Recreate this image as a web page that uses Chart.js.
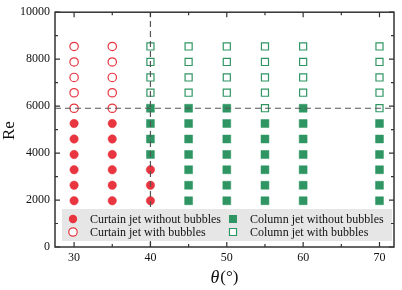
<!DOCTYPE html>
<html>
<head>
<meta charset="utf-8">
<script src="https://cdn.jsdelivr.net/npm/chart.js@4"></script>
<style>
  html, body { margin: 0; padding: 0; background: #fff; }
  #wrap { width: 402px; height: 290px; position: relative; }
</style>
</head>
<body>
<div id="wrap"><canvas id="flowMap"></canvas></div>
<script>
// Flow regime map: theta (deg) vs Re

// Curtain jet without bubbles
const curtainSolidX = [30, 30, 30, 30, 30, 30, 35, 35, 35, 35, 35, 35, 40, 40, 40];
const curtainSolidY = [1970, 2630, 3290, 3940, 4600, 5260, 1970, 2630, 3290, 3940, 4600, 5260, 1970, 2630, 3290];

// Curtain jet with bubbles
const curtainOpenX = [30, 30, 30, 30, 30, 35, 35, 35, 35, 35];
const curtainOpenY = [5910, 6570, 7220, 7880, 8540, 5910, 6570, 7220, 7880, 8540];

// Column jet without bubbles
const columnSolidX = [40, 40, 40, 40,
    45, 45, 45, 45, 45, 45, 45,
    50, 50, 50, 50, 50, 50, 50,
    55, 55, 55, 55, 55, 55,
    60, 60, 60, 60, 60, 60, 60,
    70, 70, 70, 70, 70, 70];
const columnSolidY = [3940, 4600, 5260, 5910,
    1970, 2630, 3290, 3940, 4600, 5260, 5910,
    1970, 2630, 3290, 3940, 4600, 5260, 5910,
    1970, 2630, 3290, 3940, 4600, 5260,
    1970, 2630, 3290, 3940, 4600, 5260, 5910,
    1970, 2630, 3290, 3940, 4600, 5260];

// Column jet with bubbles
const columnOpenX = [40, 40, 40, 40,
    45, 45, 45, 45,
    50, 50, 50, 50,
    55, 55, 55, 55, 55,
    60, 60, 60, 60,
    70, 70, 70, 70, 70];
const columnOpenY = [6570, 7220, 7880, 8540,
    6570, 7220, 7880, 8540,
    6570, 7220, 7880, 8540,
    5910, 6570, 7220, 7880, 8540,
    6570, 7220, 7880, 8540,
    5910, 6570, 7220, 7880, 8540];

// Boundary guide lines
const boundaryTheta = 40;
const boundaryRe = 5910;

const xTicks = [30, 40, 50, 60, 70];
const yTicks = [0, 2000, 4000, 6000, 8000, 10000];

const legendLabels = [
    'Curtain jet without bubbles',
    'Column jet without bubbles',
    'Curtain jet with bubbles',
    'Column jet with bubbles'
];

const RED = '#e8353f';
const GREEN = '#2f9663';
const FRAME = '#333333';
const SERIF = '"Liberation Serif", "DejaVu Serif", serif';

function zip(xs, ys) {
    return xs.map((x, i) => ({ x: x, y: ys[i] }));
}

const xMin = 27.5, xMax = 71.9;

// Inward ticks, frame, axis titles and boxed legend
const framePlugin = {
    id: 'frame',
    afterDraw(chart) {
        const ctx = chart.ctx;
        const a = chart.chartArea;
        const xs = chart.scales.x, ys = chart.scales.y;
        ctx.save();
        ctx.strokeStyle = FRAME;
        ctx.lineWidth = 1.5;

        // legend box
        const lx = a.left + 7, ly = a.bottom - 38, lw = a.right - a.left - 9, lh = 32;
        ctx.fillStyle = '#e6e6e6';
        ctx.fillRect(lx, ly, lw, lh);

        // frame
        ctx.strokeRect(a.left, a.top, a.right - a.left, a.bottom - a.top);

        // ticks
        ctx.lineWidth = 1.2;
        ctx.beginPath();
        for (let v = 0; v <= 10000; v += 1000) {
            const py = ys.getPixelForValue(v);
            const len = v % 2000 === 0 ? 5 : 3;
            ctx.moveTo(a.left, py); ctx.lineTo(a.left + len, py);
            ctx.moveTo(a.right, py); ctx.lineTo(a.right - len, py);
        }
        for (let v = 30; v <= 70; v += 5) {
            const px = xs.getPixelForValue(v);
            const len = v % 10 === 0 ? 5 : 3;
            ctx.moveTo(px, a.bottom); ctx.lineTo(px, a.bottom - len);
            ctx.moveTo(px, a.top); ctx.lineTo(px, a.top + len);
        }
        ctx.stroke();

        // legend entries
        ctx.font = '12px ' + SERIF;
        ctx.textBaseline = 'middle';
        ctx.textAlign = 'left';
        const cols = [lx + 11, lx + 171];
        const rows = [ly + 10, ly + 23];
        legendLabels.forEach((label, i) => {
            const mx = cols[i % 2], my = rows[Math.floor(i / 2)];
            const circle = i % 2 === 0;
            const filled = i < 2;
            ctx.beginPath();
            if (circle) {
                ctx.arc(mx, my, 4.2, 0, Math.PI * 2);
            } else {
                const s = filled ? 4 : 3.5;
                ctx.rect(mx - s, my - s, 2 * s, 2 * s);
            }
            const col = circle ? RED : GREEN;
            if (filled) {
                ctx.fillStyle = col; ctx.fill();
            } else {
                ctx.fillStyle = '#fff'; ctx.fill();
                ctx.strokeStyle = col; ctx.lineWidth = 1.2; ctx.stroke();
            }
            ctx.fillStyle = '#111';
            ctx.fillText(label, mx + 17, my + 1);
        });

        // y title
        ctx.fillStyle = '#111';
        ctx.save();
        ctx.translate(10, (a.top + a.bottom) / 2 + 1);
        ctx.rotate(-Math.PI / 2);
        ctx.font = '17px ' + SERIF;
        ctx.textAlign = 'center';
        ctx.textBaseline = 'middle';
        ctx.fillText('Re', 0, 0);
        ctx.restore();

        // x title: italic theta + (°)
        ctx.textBaseline = 'middle';
        ctx.textAlign = 'left';
        const t1 = '\u03B8';
        const t2 = '(\u00B0)';
        ctx.font = 'italic 18px ' + SERIF;
        const w1 = ctx.measureText(t1).width;
        ctx.font = '17px ' + SERIF;
        const w2 = ctx.measureText(t2).width;
        const cx = (a.left + a.right) / 2;
        const ty = 278;
        const sx = cx - (w1 + w2 + 1) / 2;
        ctx.font = 'italic 18px ' + SERIF;
        ctx.fillText(t1, sx, ty);
        ctx.font = '17px ' + SERIF;
        ctx.fillText(t2, sx + w1 + 1, ty);
        ctx.restore();
    }
};

const lineStyle = {
    type: 'line',
    borderColor: '#555',
    borderWidth: 1.2,
    borderDash: [6, 4],
    pointRadius: 0,
    fill: false
};

new Chart(document.getElementById('flowMap'), {
    type: 'scatter',
    data: {
        datasets: [
            Object.assign({ label: 'vline', data: [{ x: boundaryTheta, y: 0 }, { x: boundaryTheta, y: 10000 }] }, lineStyle),
            Object.assign({ label: 'hline', data: [{ x: xMin, y: boundaryRe }, { x: 71.5, y: boundaryRe }] }, lineStyle),
            {
                label: legendLabels[0],
                data: zip(curtainSolidX, curtainSolidY),
                pointStyle: 'circle', pointRadius: 4.2,
                backgroundColor: RED, borderColor: RED, borderWidth: 0.5
            },
            {
                label: legendLabels[2],
                data: zip(curtainOpenX, curtainOpenY),
                pointStyle: 'circle', pointRadius: 4.2,
                backgroundColor: '#fff', borderColor: RED, borderWidth: 1.2
            },
            {
                label: legendLabels[1],
                data: zip(columnSolidX, columnSolidY),
                pointStyle: 'rect', pointRadius: 5.6,
                backgroundColor: GREEN, borderColor: GREEN, borderWidth: 0.5
            },
            {
                label: legendLabels[3],
                data: zip(columnOpenX, columnOpenY),
                pointStyle: 'rect', pointRadius: 5,
                backgroundColor: '#fff', borderColor: GREEN, borderWidth: 1.2
            }
        ]
    },
    options: {
        responsive: true,
        maintainAspectRatio: false,
        animation: false,
        layout: { padding: { top: 5, right: 8, left: 0, bottom: 0 } },
        plugins: {
            legend: { display: false },
            tooltip: { enabled: false }
        },
        scales: {
            x: {
                type: 'linear',
                min: xMin, max: xMax,
                afterBuildTicks(scale) { scale.ticks = xTicks.map(v => ({ value: v })); },
                afterFit(scale) { scale.height = 43; },
                grid: { display: false, drawTicks: false },
                border: { display: false },
                ticks: {
                    color: '#111', padding: 4, font: { family: SERIF, size: 12 },
                    callback: v => String(v)
                }
            },
            y: {
                type: 'linear',
                min: 0, max: 10000,
                afterBuildTicks(scale) { scale.ticks = yTicks.map(v => ({ value: v })); },
                afterFit(scale) { scale.width = 55; },
                grid: { display: false, drawTicks: false },
                border: { display: false },
                ticks: {
                    color: '#111', padding: 5, font: { family: SERIF, size: 12 },
                    callback: v => String(v)
                }
            }
        }
    },
    plugins: [framePlugin]
});
</script>
</body>
</html>
